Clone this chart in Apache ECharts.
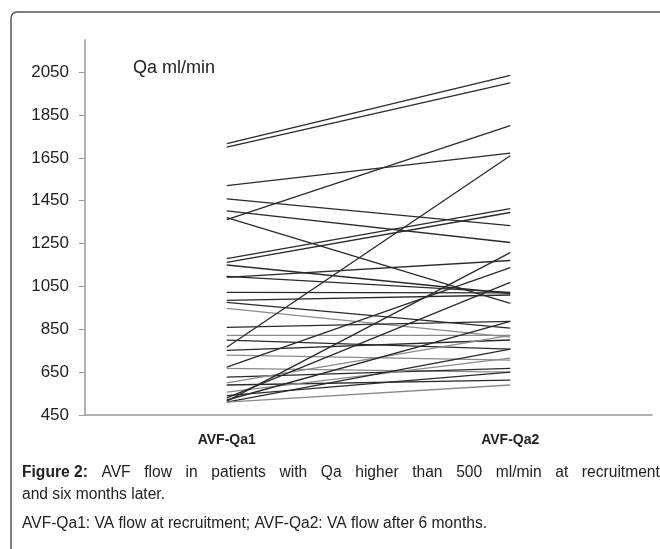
<!DOCTYPE html>
<html>
<head>
<meta charset="utf-8">
<script src="https://cdn.jsdelivr.net/npm/echarts@6/dist/echarts.min.js"></script>
<style>
  html, body { margin: 0; padding: 0; background: #fff; }
  #chart { width: 660px; height: 549px; }
</style>
</head>
<body>
<div id="chart"></div>
<script>
var categories = ['AVF-Qa1', 'AVF-Qa2'];
var yTicks = [450, 650, 850, 1050, 1250, 1450, 1650, 1850, 2050];

// one patient per position: flow at recruitment and after 6 months
var qa1 = [1716, 1700, 1520, 1459, 1403, 1371, 1362, 1180, 1162, 1150, 1097, 1092,
           1022, 985, 976, 948, 859, 822, 799, 766, 752, 729, 673, 668, 627, 600,
           590, 557, 540, 530, 520, 515, 510, 510];
var qa2 = [2035, 2000, 1672, 1334, 1255, 971, 1800, 1413, 1395, 1017, 1022, 1171,
           1020, 1010, 855, 813, 887, 822, 757, 1660, 800, 706, 1138, 650, 668, 822,
           613, 715, 650, 1069, 887, 1208, 757, 590];

var FONT = 'Liberation Sans, Arial, sans-serif';

var chart = echarts.init(document.getElementById('chart'));

var series = [];
for (var i = 0; i < qa1.length; i++) {
	var light = (qa1[i] < 1000 && qa2[i] < 1000 && i % 2 == 1);
	series.push({
		type: 'line',
		data: [qa1[i], qa2[i]],
		symbol: 'none',
		silent: true,
		lineStyle: { color: light ? '#8a8a8a' : '#2a2a2a', width: 1.3 }
	});
}

// first caption line is justified in the source, so word gaps are widened
var captionWords = ['AVF', 'flow', 'in', 'patients', 'with', 'Qa', 'higher', 'than', '500', 'ml/min', 'at', 'recruitment'];
var firstLine = '{b|Figure 2:}{s| }' + captionWords.join('{s| }');

var option = {
	backgroundColor: '#fff',
	animation: false,
	grid: { left: 85, right: 8, top: 40, bottom: 134 },
	xAxis: {
		type: 'category',
		data: categories,
		boundaryGap: true,
		axisLine: { lineStyle: { color: '#999', width: 1.5 } },
		axisTick: { length: 5, lineStyle: { color: '#999' } },
		axisLabel: { color: '#222', fontWeight: 'bold', fontSize: 14, fontFamily: FONT, margin: 18 }
	},
	yAxis: {
		type: 'value',
		min: 450,
		max: 2200,
		splitLine: { show: false },
		axisLine: { show: true, lineStyle: { color: '#999', width: 1.5 } },
		axisTick: { show: true, length: 6, customValues: yTicks, lineStyle: { color: '#999' } },
		axisLabel: {
			color: '#222', fontSize: 17, fontFamily: FONT, margin: 16, customValues: yTicks,
			formatter: function (v) { return String(v); }
		}
	},
	graphic: [
		{
			type: 'rect',
			shape: { x: 11, y: 12, width: 700, height: 600, r: 6 },
			style: { fill: 'none', stroke: '#555', lineWidth: 1.5 },
			silent: true
		},
		{
			type: 'text', left: 133, top: 59,
			style: { text: 'Qa ml/min', fontSize: 18, fontFamily: FONT, fill: '#222' }
		},
		{
			type: 'text', left: 22, top: 465,
			style: {
				text: firstLine,
				fontSize: 15.6, fontFamily: FONT, fill: '#222',
				rich: {
					b: { fontWeight: 'bold', fontSize: 15.6, fontFamily: FONT, fill: '#222' },
					s: { width: 13.6, fontSize: 15.6, fontFamily: FONT }
				}
			}
		},
		{
			type: 'text', left: 22, top: 487,
			style: { text: 'and six months later.', fontSize: 15.6, fontFamily: FONT, fill: '#222' }
		},
		{
			type: 'text', left: 22, top: 516,
			style: { text: 'AVF-Qa1: VA flow at recruitment; AVF-Qa2: VA flow after 6 months.', fontSize: 15.6, fontFamily: FONT, fill: '#222' }
		}
	],
	series: series
};

chart.setOption(option);
</script>
</body>
</html>
